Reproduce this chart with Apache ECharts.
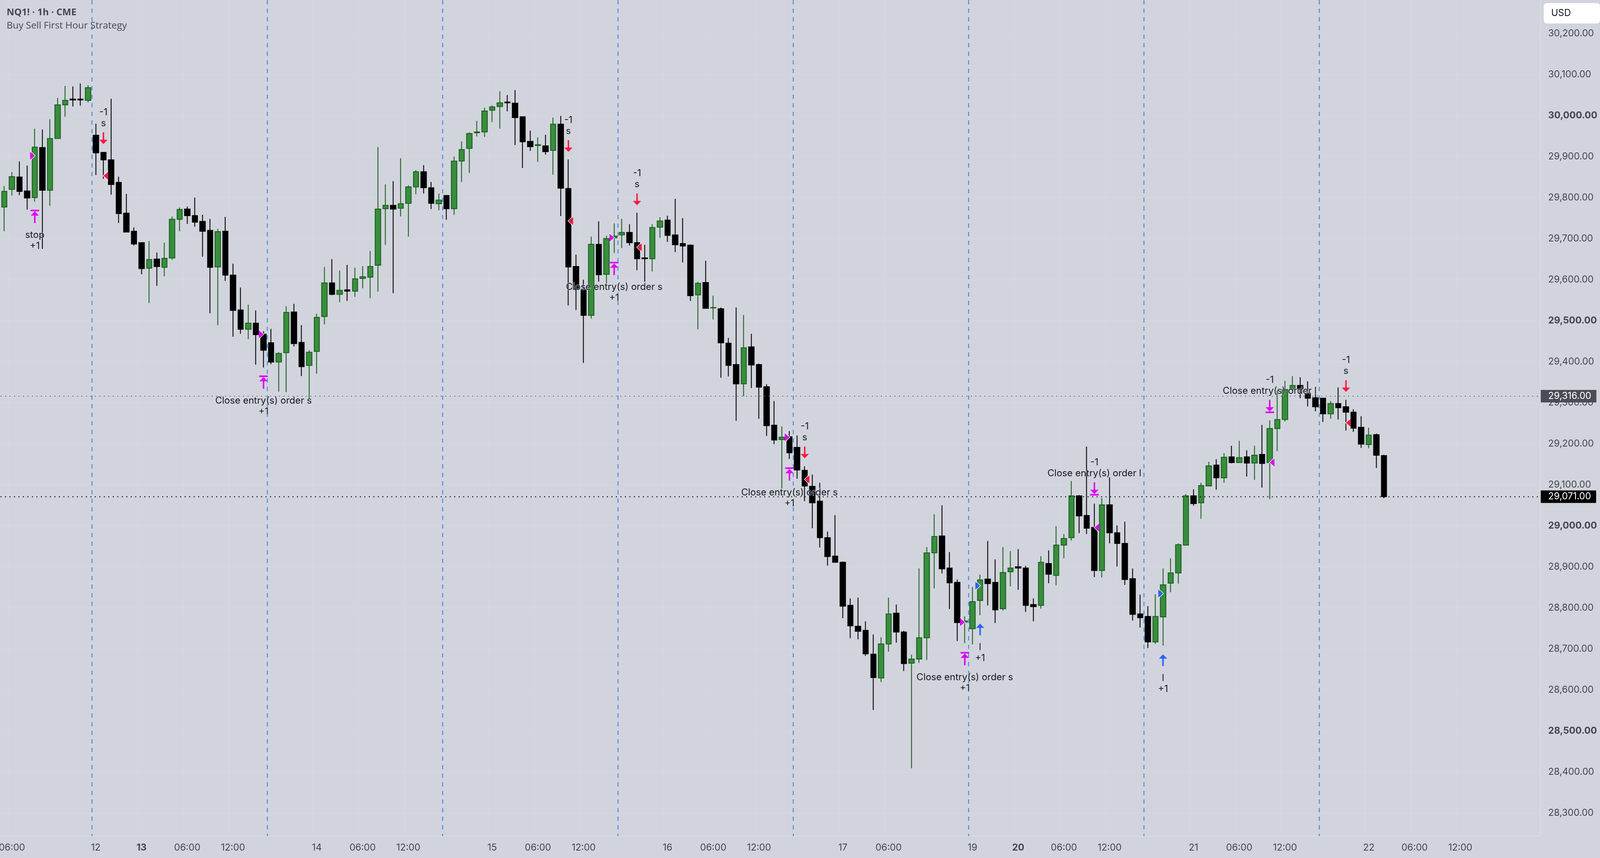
<!DOCTYPE html>
<html>
<head>
<meta charset="utf-8">
<title>NQ1! 1h</title>
<script src="https://cdn.jsdelivr.net/npm/echarts@6/dist/echarts.min.js"></script>
<style>
html,body{margin:0;padding:0;background:#d1d4dc;overflow:hidden;width:4104px;height:2196px;}
/* first bar sits partly off the left edge, so the chart box starts 6px outside the page */
#main{position:absolute;left:-6px;top:0;width:4110px;height:2196px;}
</style>
</head>
<body>
<div id="main"></div>
<script>
// bars, left to right
var opens = [
	29777,29820,29850,29816,29800,29922,29818,29944,30026,30040,
	30040,30037,29952,29910,29892,29837,29762,29718,29690,29628,
	29650,29630,29653,29747,29772,29756,29742,29720,29631,29718,
	29611,29526,29479,29494,29467,29446,29399,29422,29521,29447,
	29391,29425,29510,29592,29564,29575,29572,29603,29606,29635,
	29773,29781,29774,29786,29826,29863,29824,29785,29805,29773,
	29889,29920,29958,29960,30013,30022,30033,30030,29997,29937,
	29927,29926,29915,29979,29822,29632,29575,29513,29686,29613,
	29702,29709,29715,29690,29653,29651,29728,29745,29709,29688,
	29684,29563,29593,29531,29529,29445,29393,29346,29436,29393,
	29339,29245,29210,29217,29191,29135,29096,29060,28971,28926,
	28911,28806,28755,28745,28687,28629,28712,28787,28741,28665,
	28675,28727,28934,28975,28897,28862,28765,28749,28818,28870,
	28862,28798,28888,28900,28897,28808,28806,28908,28879,28953,
	28971,29073,29025,28996,28891,29051,28983,28957,28871,28785,
	28779,28717,28778,28860,28885,28953,29073,29056,29097,29148,
	29117,29168,29154,29168,29153,29174,29154,29237,29259,29333,
	29342,29323,29312,29311,29273,29298,29290,29277,29240,29198,
	29222,29171
];
var closes = [
	29815,29851,29815,29799,29923,29818,29944,30026,30037,30038,
	30038,30068,29909,29892,29832,29761,29716,29687,29627,29649,
	29632,29652,29747,29771,29756,29740,29718,29630,29717,29611,
	29525,29479,29494,29466,29428,29399,29420,29520,29444,29388,
	29423,29508,29592,29564,29574,29572,29602,29607,29632,29772,
	29781,29772,29785,29826,29863,29824,29786,29794,29773,29889,
	29917,29956,29960,30011,30021,30031,30031,29995,29936,29924,
	29929,29912,29979,29823,29631,29576,29513,29686,29612,29700,
	29706,29715,29690,29651,29651,29727,29743,29708,29685,29682,
	29561,29591,29530,29532,29446,29391,29346,29434,29392,29338,
	29244,29209,29216,29178,29136,29097,29056,28971,28925,28911,
	28804,28756,28743,28688,28630,28712,28785,28741,28664,28675,
	28727,28934,28974,28895,28861,28764,28768,28815,28868,28859,
	28795,28886,28897,28897,28806,28803,28911,28882,28953,28969,
	29073,29024,28994,28891,29051,28983,28957,28869,28784,28776,
	28717,28779,28856,28885,28954,29073,29054,29098,29146,29117,
	29167,29154,29166,29153,29172,29152,29237,29259,29332,29342,
	29334,29311,29290,29273,29298,29288,29277,29238,29199,29221,
	29172,29071
];
var lows = [
	29718,29805,29806,29771,29790,29675,29780,29944,29997,30022,
	30024,30032,29855,29846,29807,29738,29715,29683,29613,29543,
	29585,29608,29648,29718,29736,29729,29656,29518,29489,29597,
	29461,29468,29455,29393,29386,29394,29327,29326,29437,29365,
	29311,29371,29491,29562,29545,29548,29558,29579,29555,29571,
	29685,29567,29754,29705,29808,29810,29772,29769,29746,29758,
	29838,29860,29949,29948,29984,29968,30010,29928,29872,29914,
	29887,29905,29856,29755,29537,29526,29397,29505,29595,29591,
	29665,29677,29683,29623,29595,29620,29702,29692,29667,29642,
	29548,29479,29529,29503,29361,29364,29256,29316,29336,29261,
	29219,29199,29091,29163,29115,29060,28994,28947,28903,28911,
	28775,28726,28723,28683,28551,28619,28693,28715,28646,28409,
	28666,28673,28847,28884,28797,28719,28714,28711,28782,28806,
	28763,28793,28852,28844,28790,28767,28798,28860,28855,28921,
	28964,28982,28980,28875,28874,28957,28901,28856,28769,28752,
	28702,28712,28708,28838,28859,28952,29049,29017,29096,29088,
	29105,29152,29153,29120,29112,29093,29065,29182,29254,29329,
	29311,29291,29279,29253,29261,29259,29232,29229,29190,29189,
	29141,29067
];
var highs = [
	29828,29862,29888,29878,29968,29966,29991,30043,30072,30071,
	30078,30074,29980,29910,30041,29851,29809,29727,29690,29694,
	29666,29690,29754,29776,29778,29800,29758,29748,29724,29753,
	29639,29581,29539,29525,29474,29480,29423,29535,29541,29489,
	29428,29517,29631,29650,29622,29636,29629,29633,29670,29923,
	29832,29840,29896,29830,29867,29879,29838,29810,29806,29900,
	29937,29959,29987,30019,30025,30059,30050,30062,29998,29963,
	29947,29953,29995,29999,29893,29661,29600,29705,29742,29707,
	29737,29748,29735,29763,29685,29735,29752,29756,29797,29750,
	29686,29595,29646,29561,29532,29458,29532,29514,29468,29395,
	29345,29304,29242,29231,29220,29145,29125,29105,28986,29026,
	28913,28823,28825,28767,28735,28728,28825,28808,28744,28686,
	28896,28948,29028,29050,28936,28869,28779,28851,28881,28963,
	28918,28948,28938,28943,28902,28823,28926,28940,28999,28980,
	29109,29075,29193,29054,29067,29118,29001,29010,28896,28832,
	28804,28833,28896,28921,28957,29077,29089,29105,29156,29162,
	29177,29195,29207,29184,29195,29246,29257,29330,29353,29365,
	29362,29352,29328,29311,29304,29337,29307,29284,29267,29239,
	29225,29173
];

var totalBands = 202; // bars plus the empty space on the right
var tickBars = [1,12,18,24,30,41,47,53,64,70,76,87,93,99,110,116,127,133,139,145,156,162,168,179,185,191];
var tickLabels = ['06:00','12','13','06:00','12:00','14','06:00','12:00','15','06:00','12:00','16','06:00','12:00','17','06:00','19','20','06:00','12:00','21','06:00','12:00','22','06:00','12:00'];
var boldTicks = ['13','20'];
var priceTicks = [28300,28400,28500,28600,28700,28800,28900,29000,29100,29200,29300,29400,29500,29600,29700,29800,29900,30000,30100,30200];
var priceMin = 28243.5;
var priceMax = 30281.6;
var sessionBreaks = [11,34,57,80,103,126,149,172];
var prevClose = 29316;
var lastPrice = 29071;

// strategy orders
var orderBars = [4,13,34,74,80,83,105,103,126,128,143,152,166,176];
var orderPrices = [29738,29959,29334,29940,29611,29810,29193,29110,28660,28733,29106,28658,29307,29355];
var orderKinds = ['exitUp','sell','exitUp','sell','exitUp','sell','sell','exitUp','exitUp','buy','exitDown','buy','exitDown','sell'];
var orderNear = ['stop','s','Close entry(s) order s','s','Close entry(s) order s','s','s','Close entry(s) order s','Close entry(s) order s','l','Close entry(s) order l','l','Close entry(s) order l','s'];
var orderFar = ['+1','-1','+1','-1','+1','-1','-1','+1','+1','+1','-1','+1','-1','-1'];

// fill markers
var fillBars = [4,13,34,74,80,83,103,105,126,128,143,152,166,176];
var fillPrices = [29902,29853,29467,29743,29702,29679,29216,29113,28765,28854,28996,28835,29154,29251];
var fillSides = ['r','l','r','l','r','l','r','l','r','r','l','r','l','l'];
var fillKinds = ['exit','sell','exit','sell','exit','sell','exit','sell','exit','buy','exit','buy','exit','sell'];

var MAGENTA = '#e000f5', RED = '#ff1744', BLUE = '#2962ff';
var TEXT = '#434651', INK = '#131722';
var FONT = 'Inter, sans-serif';
var PAGE_X = 6; // page x + PAGE_X = chart x

var myChart = echarts.init(document.getElementById('main'));

var candles = opens.map(function(o,i){ return [o,closes[i],lows[i],highs[i]]; });
var categories = [];
for(var i=0;i<totalBands;i++){
	var t = tickBars.indexOf(i);
	categories.push(t>=0 ? tickLabels[t] : '');
}

function fmtPrice(v){
	return v.toLocaleString('en-US',{minimumFractionDigits:2,maximumFractionDigits:2});
}

function renderBreak(params,api){
	var p = api.coord([api.value(0),priceMax]);
	var half = api.size([1,0])[0]/2;
	var cs = params.coordSys;
	return {
		type:'line',
		shape:{x1:p[0]+half,y1:cs.y,x2:p[0]+half,y2:cs.y+cs.height},
		style:{stroke:'#4a86e8',lineWidth:2.4,lineDash:[11,11]}
	};
}

function renderOrder(params,api){
	var i = params.dataIndex;
	var p = api.coord([api.value(0),api.value(1)]);
	var x = p[0], y = p[1];
	var kind = orderKinds[i];
	var color = kind==='sell' ? RED : (kind==='buy' ? BLUE : MAGENTA);
	var up = kind==='exitUp' || kind==='buy';
	var dir = up ? -1 : 1; // arrow runs from the tail at y towards the tip
	var kids = [
		{type:'rect',shape:{x:x-1.9,y:Math.min(y,y+dir*22),width:3.8,height:22},style:{fill:color}},
		{type:'polygon',shape:{points:[[x,y+dir*30],[x-10.5,y+dir*19],[x+10.5,y+dir*19]]},style:{fill:color}}
	];
	if(kind==='exitUp' || kind==='exitDown'){
		kids.push({type:'rect',shape:{x:x-11,y:up ? y-34 : y+30,width:22,height:4},style:{fill:color}});
	}
	var near = up ? y+31 : y-23;
	var far = up ? y+59 : y-51;
	[[orderNear[i],near],[orderFar[i],far]].forEach(function(line){
		kids.push({type:'text',style:{
			x:x,y:line[1],text:line[0],textAlign:'center',textVerticalAlign:'middle',
			font:'24px '+FONT,fill:INK,stroke:'rgba(209,212,220,0.85)',lineWidth:2
		}});
	});
	return {type:'group',children:kids};
}

function renderFill(params,api){
	var i = params.dataIndex;
	var p = api.coord([api.value(0),api.value(1)]);
	var x = p[0], y = p[1];
	var kind = fillKinds[i];
	var color = kind==='sell' ? RED : (kind==='buy' ? BLUE : MAGENTA);
	var s = fillSides[i]==='r' ? -1 : 1; // base is to the left for right-pointing ones
	return {type:'group',children:[
		{type:'polygon',shape:{points:[[x,y],[x+s*12,y-10],[x+s*12,y+10]]},style:{fill:color}},
		{type:'polyline',shape:{points:[[x+s*12,y-13],[x-s*1,y],[x+s*12,y+13]]},style:{stroke:'#e6e8ee',fill:null,lineWidth:1.5}}
	]};
}

var option = {
	backgroundColor:'#d1d4dc',
	animation:false,
	grid:{left:0.2,top:0,width:3949.1,height:2140},
	xAxis:{
		type:'category',
		data:categories,
		boundaryGap:true,
		axisLine:{lineStyle:{color:'#d9dce3',width:2}},
		axisTick:{show:false},
		splitLine:{show:true,interval:function(i,v){return v!=='';},lineStyle:{color:'#d5d8df',width:1.5}},
		axisLabel:{
			interval:function(i,v){return v!=='';},
			margin:18,
			hideOverlap:false,
			color:TEXT,
			fontFamily:FONT,
			fontSize:24,
			formatter:function(v){ return boldTicks.indexOf(v)>=0 ? '{b|'+v+'}' : v; },
			rich:{b:{fontFamily:FONT,fontSize:24,fontWeight:'bold',color:TEXT}}
		}
	},
	yAxis:{
		type:'value',
		position:'right',
		min:priceMin,
		max:priceMax,
		axisLine:{show:true,lineStyle:{color:'#d9dce3',width:2}},
		axisTick:{show:false,customValues:priceTicks},
		splitLine:{show:true,lineStyle:{color:'#d5d8df',width:1.5}},
		axisLabel:{
			customValues:priceTicks,
			margin:20,
			color:TEXT,
			fontFamily:FONT,
			fontSize:24,
			formatter:function(v){ var s=fmtPrice(v); return v%500===0 ? '{b|'+s+'}' : s; },
			rich:{b:{fontFamily:FONT,fontSize:24,fontWeight:'bold',color:TEXT}}
		}
	},
	series:[
		{
			type:'custom',
			silent:true,
			z:1,
			data:sessionBreaks.map(function(b){return [b,priceMax];}),
			encode:{x:0,y:1},
			renderItem:renderBreak
		},
		{
			type:'candlestick',
			silent:true,
			z:2,
			data:candles,
			barWidth:14,
			itemStyle:{
				color:'#388e3c',
				color0:'#000000',
				borderColor:'#1b5e20',
				borderColor0:'#000000',
				borderWidth:2.2
			},
			markLine:{
				silent:true,
				symbol:'none',
				animation:false,
				data:[
					{yAxis:prevClose,lineStyle:{color:'#5a5d66',type:[2.5,9],width:2},
						label:{backgroundColor:'#4a4d55'}},
					{yAxis:lastPrice,lineStyle:{color:'#000000',type:[2.5,9],width:2.5},
						label:{backgroundColor:'#000000'}}
				],
				label:{
					position:'end',
					distance:1,
					color:'#ffffff',
					fontFamily:FONT,
					fontSize:24,
					padding:[4,13,4,19],
					formatter:function(p){ return fmtPrice(p.value); }
				}
			}
		},
		{
			type:'custom',
			silent:true,
			z:4,
			data:fillBars.map(function(b,i){return [b,fillPrices[i]];}),
			encode:{x:0,y:1},
			renderItem:renderFill
		},
		{
			type:'custom',
			silent:true,
			z:5,
			data:orderBars.map(function(b,i){return [b,orderPrices[i]];}),
			encode:{x:0,y:1},
			renderItem:renderOrder
		}
	],
	graphic:[
		{type:'rect',z:10,shape:{x:3952+PAGE_X,y:8,width:144,height:52,r:8},style:{fill:'#ffffff'}},
		{type:'text',z:11,style:{x:3971+PAGE_X,y:34,text:'USD',textVerticalAlign:'middle',font:'24px '+FONT,fill:'#131722'}},
		{type:'text',z:11,style:{x:17+PAGE_X,y:32,text:'NQ1! · 1h · CME',textVerticalAlign:'middle',font:'bold 24px "Open Sans"',fill:TEXT}},
		{type:'text',z:11,style:{x:17+PAGE_X,y:66,text:'Buy Sell First Hour Strategy',textVerticalAlign:'middle',font:'24.4px "Open Sans"',fill:TEXT}}
	]
};
myChart.setOption(option);
</script>
</body>
</html>
